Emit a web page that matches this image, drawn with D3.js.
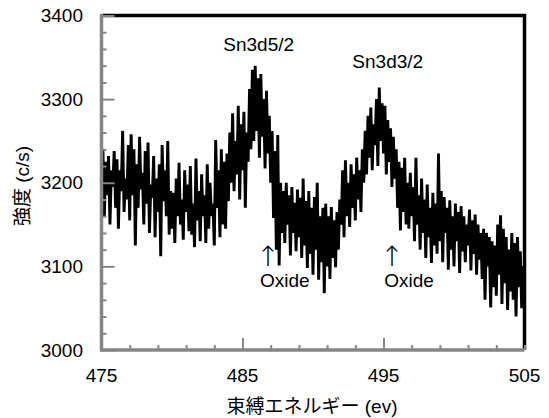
<!DOCTYPE html>
<html>
<head>
<meta charset="utf-8">
<script src="https://cdn.jsdelivr.net/npm/d3@7/dist/d3.min.js"></script>
<style>
  body { margin: 0; background: #fff; }
  text { font-family: "Liberation Sans", Arial, "Noto Sans CJK JP", sans-serif; fill: #000; }
</style>
</head>
<body>
<script>
// XPS spectrum, 475 - 505 eV, 0.1 eV step
const eStart = 475;
const eStep = 0.1;
const counts = [
  3205,3240,3160,3225,3185,3232,3150,3215,3195,3238,
  3170,3228,3145,3215,3190,3262,3165,3205,3180,3245,
  3155,3258,3185,3240,3125,3222,3170,3255,3192,3212,
  3150,3238,3175,3248,3140,3198,3182,3232,3135,3205,
  3165,3222,3112,3245,3178,3215,3160,3250,3138,3190,
  3145,3188,3128,3205,3160,3224,3150,3180,3132,3215,
  3165,3198,3142,3220,3138,3175,3123,3229,3155,3190,
  3130,3210,3160,3185,3128,3222,3145,3200,3160,3175,
  3125,3251,3170,3215,3135,3240,3150,3225,3145,3235,
  3178,3260,3200,3283,3190,3250,3210,3292,3180,3270,
  3215,3285,3170,3260,3225,3312,3240,3335,3250,3340,
  3262,3325,3230,3330,3255,3300,3217,3310,3235,3280,
  3200,3262,3158,3238,3120,3257,3101,3200,3140,3190,
  3128,3200,3150,3185,3113,3195,3140,3176,3118,3192,
  3135,3182,3110,3205,3125,3178,3098,3190,3115,3170,
  3090,3183,3120,3200,3084,3160,3105,3170,3068,3175,
  3100,3160,3085,3171,3110,3155,3099,3165,3120,3180,
  3150,3215,3135,3227,3160,3200,3147,3222,3170,3210,
  3155,3230,3180,3215,3165,3240,3200,3262,3210,3280,
  3230,3290,3215,3270,3245,3300,3220,3314,3250,3295,
  3235,3292,3210,3275,3225,3265,3195,3255,3205,3240,
  3170,3225,3143,3218,3165,3230,3150,3200,3145,3212,
  3160,3195,3130,3230,3150,3185,3120,3205,3140,3180,
  3110,3198,3135,3170,3104,3188,3125,3175,3115,3235,
  3130,3190,3105,3183,3140,3170,3096,3179,3120,3160,
  3100,3175,3130,3165,3092,3172,3118,3160,3105,3150,
  3125,3168,3095,3155,3115,3162,3090,3150,3108,3140,
  3085,3145,3060,3140,3100,3135,3051,3130,3075,3125,
  3065,3150,3090,3161,3055,3145,3080,3135,3048,3120,
  3070,3140,3060,3128,3040,3135,3075,3118,3050,3100,
  3045
];

const xTicks = [475, 485, 495, 505];
const yTicks = [3000, 3100, 3200, 3300, 3400];

const peakLabels = [
  { text: "Sn3d5/2", e: 486.15, v: 3358 },
  { text: "Sn3d3/2", e: 495.3, v: 3337 }
];
const oxideLabels = [
  { e: 486.8 },
  { e: 495.6 }
];

const width = 549;
const height = 418;
const plotL = 101.5, plotR = 524.5, plotT = 15.5, plotB = 350;
const axisGray = "#858585";

const x = d3.scaleLinear().domain([475, 505]).range([plotL, plotR]);
const y = d3.scaleLinear().domain([3000, 3400]).range([plotB, plotT]);

const svg = d3.select("body").append("svg")
  .attr("width", width)
  .attr("height", height);

// spectrum line
const points = counts.map((c, i) => [eStart + i * eStep, c]);
svg.append("path")
  .datum(points)
  .attr("fill", "none")
  .attr("stroke", "#000")
  .attr("stroke-width", 2.9)
  .attr("stroke-linejoin", "miter")
  .attr("d", d3.line().x(d => x(d[0])).y(d => y(d[1])));

// top and right frame (black)
svg.append("path")
  .attr("d", `M${plotL},${plotT}H${plotR}V${plotB}`)
  .attr("fill", "none")
  .attr("stroke", "#000")
  .attr("stroke-width", 3.5);

// left axis (gray, ticks inside)
const yAxis = d3.axisRight(y)
  .tickValues(d3.range(3000, 3401, 20))
  .tickSize(0)
  .tickFormat("");
const gy = svg.append("g").attr("transform", `translate(${plotL},0)`).call(yAxis);
gy.select(".domain").remove();
gy.selectAll(".tick line")
  .attr("stroke", axisGray)
  .attr("stroke-width", 2)
  .attr("x2", d => d % 100 === 0 ? 13 : 5);

svg.append("line")
  .attr("x1", plotL).attr("x2", plotL)
  .attr("y1", plotT - 1.5).attr("y2", plotB + 1.5)
  .attr("stroke", axisGray).attr("stroke-width", 3.5);

// bottom axis (gray, ticks inside)
const xAxis = d3.axisTop(x)
  .tickValues(d3.range(475, 505.1, 2).concat([485, 495]))
  .tickSize(0)
  .tickFormat("");
const gx = svg.append("g").attr("transform", `translate(0,${plotB})`).call(xAxis);
gx.select(".domain").remove();
gx.selectAll(".tick line")
  .attr("stroke", axisGray)
  .attr("stroke-width", 2)
  .attr("y2", d => (d === 485 || d === 495) ? -12 : -5);

svg.append("line")
  .attr("x1", plotL - 1.5).attr("x2", plotR)
  .attr("y1", plotB).attr("y2", plotB)
  .attr("stroke", axisGray).attr("stroke-width", 3.5);

// tick labels
svg.selectAll(".ylab")
  .data(yTicks)
  .enter().append("text")
  .attr("x", 83)
  .attr("y", d => y(d))
  .attr("dy", "0.35em")
  .attr("text-anchor", "end")
  .style("font-size", "19px")
  .text(d => d);

svg.selectAll(".xlab")
  .data(xTicks)
  .enter().append("text")
  .attr("x", d => x(d))
  .attr("y", 382)
  .attr("text-anchor", "middle")
  .style("font-size", "19px")
  .text(d => d);

// axis titles
svg.append("text")
  .attr("x", 312)
  .attr("y", 413)
  .attr("text-anchor", "middle")
  .style("font-size", "19px")
  .text("束縛エネルギー (ev)");

svg.append("text")
  .attr("transform", "translate(29,186) rotate(-90)")
  .attr("text-anchor", "middle")
  .style("font-size", "19px")
  .text("強度 (c/s)");

// annotations
svg.selectAll(".peak")
  .data(peakLabels)
  .enter().append("text")
  .attr("x", d => x(d.e))
  .attr("y", d => y(d.v))
  .attr("text-anchor", "middle")
  .style("font-size", "19px")
  .text(d => d.text);

svg.selectAll(".arrow")
  .data(oxideLabels)
  .enter().append("text")
  .attr("x", d => x(d.e))
  .attr("y", 266)
  .attr("text-anchor", "middle")
  .style("font-size", "28px")
  .style("font-family", "'DejaVu Sans', sans-serif")
  .style("font-weight", "200")
  .text("↑");

svg.selectAll(".oxide")
  .data(oxideLabels)
  .enter().append("text")
  .attr("x", d => x(d.e) + 17)
  .attr("y", 287)
  .attr("text-anchor", "middle")
  .style("font-size", "19px")
  .text("Oxide");
</script>
</body>
</html>
